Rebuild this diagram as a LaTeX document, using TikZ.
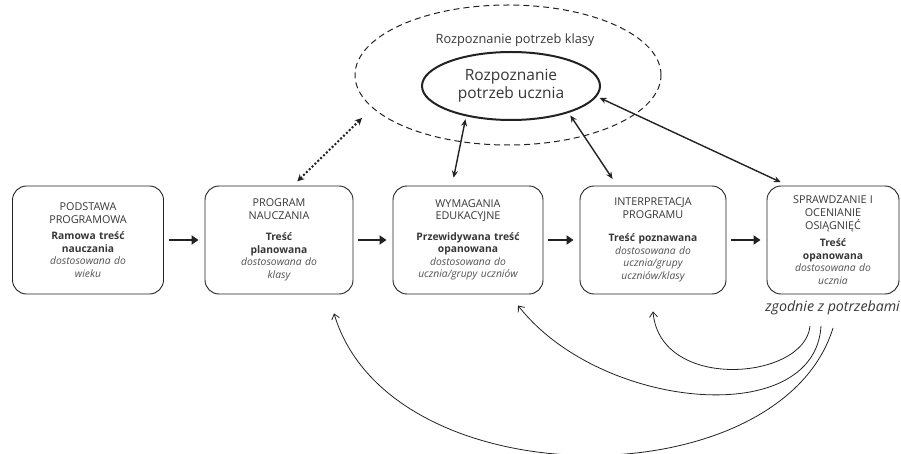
\documentclass[tikz,border=0pt]{standalone}
\usepackage{fontspec}
\setsansfont{Open Sans}
\usepackage{tikz}
\usetikzlibrary{shapes.geometric,arrows.meta}
\definecolor{ink}{HTML}{222222}
\definecolor{txt}{HTML}{363636}
\definecolor{soft}{HTML}{505050}
\tikzset{
  stage/.style={
    draw=ink, line width=0.9pt, rounded corners=14pt,
    minimum height=108pt, inner sep=3pt, align=center,
    font=\sffamily\fontsize{10.3}{12.5}\selectfont, text=txt},
  flow arrow/.style={
    draw=ink, line width=2.4pt, -{Triangle[length=7pt,width=9pt]},
    shorten <=5pt, shorten >=6pt},
  link arrow/.style={
    draw=ink, line width=1.4pt,
    {Stealth[length=7pt,width=6pt]}-{Stealth[length=7pt,width=6pt]},
    shorten <=8pt, shorten >=3pt},
  dot arrow/.style={
    draw=ink, line width=2pt, dotted,
    {Stealth[length=7pt,width=7pt]}-{Stealth[length=7pt,width=7pt]},
    shorten <=6pt},
  back arrow/.style={
    draw=ink, line width=0.8pt, -{Straight Barb[length=5pt,width=8pt]}},
  }
\newcommand{\stagehead}[1]{{\fontsize{10.8}{12.8}\selectfont #1}}
\newcommand{\adapted}[1]{{\itshape\color{soft}#1}}

\begin{document}
\begin{tikzpicture}[x=1pt,y=-1pt]
            \useasboundingbox (0,0) rectangle (901,454);

            % Stages
            \node[stage, text width=145pt] (b1) at (88,240)
                {\stagehead{PODSTAWA\\PROGRAMOWA}\\[4pt]{\bfseries Ramowa treść\\nauczania}\\\adapted{dostosowana do\\wieku}};
            \node[stage, text width=142pt] (b2) at (279,240)
                {\stagehead{PROGRAM\\NAUCZANIA}\\[9pt]{\bfseries Treść\\planowana}\\\adapted{dostosowana do\\klasy}};
            \node[stage, text width=144pt] (b3) at (468,240)
                {\stagehead{WYMAGANIA\\EDUKACYJNE}\\[8pt]{\bfseries Przewidywana treść\\opanowana}\\\adapted{dostosowana do\\ucznia/grupy uczniów}};
            \node[stage, text width=140pt] (b4) at (653,240)
                {\stagehead{INTERPRETACJA\\PROGRAMU}\\[11pt]{\bfseries Treść poznawana}\\\adapted{dostosowana do\\ucznia/grupy\\uczniów/klasy}};
            \node[stage, text width=126pt] (b5) at (833,240)
                {\stagehead{SPRAWDZANIE I\\OCENIANIE\\OSIĄGNIĘĆ}\\[5pt]{\bfseries Treść\\opanowana}\\\adapted{dostosowana do\\ucznia}};

            % Needs
            \node[draw=ink, ellipse, line width=1pt, dash pattern=on 6pt off 4pt,
                  minimum width=306pt, minimum height=140pt] (klasa) at (508,75) {};
            \node[font=\sffamily\fontsize{12.8}{14}\selectfont, text=txt] (klasa label) at (515,40) {Rozpoznanie potrzeb klasy};
            \node[draw=ink, ellipse, line width=2pt, minimum width=178pt, minimum height=68pt,
                  align=center, font=\sffamily\fontsize{15.5}{18}\selectfont, text=txt] (ucz) at (511,86)
                {Rozpoznanie\\potrzeb ucznia};

            \node[anchor=east, inner xsep=1pt, font=\sffamily\itshape\fontsize{14.2}{16}\selectfont, text=txt] (zg) at (901,308)
                {zgodnie z potrzebami};

            % Flow
            \foreach \a/\b in {b1/b2,b2/b3,b3/b4,b4/b5}
                \draw[flow arrow] (\a) -- (\b);

            % Links to needs
            \coordinate (dot) at (362,118);
            \draw[dot arrow] ([xshift=14pt]b2.north) -- (dot);
            \draw[link arrow] ([xshift=-16pt]b3.north) -- (ucz.214);
            \draw[link arrow] ([xshift=-36pt]b4.north) -- (ucz.335);
            \draw[link arrow] ([xshift=-45pt]b5.north) -- (ucz.353);

            % Back loops
            \coordinate (s1) at (810,326);
            \coordinate (s2) at (821,326);
            \coordinate (s3) at (833,328);
            \draw[back arrow] (s1) .. controls +(-5,54) and +(7,81) .. ([yshift=-17pt]b4.south);
            \draw[back arrow] (s2) .. controls +(-6,104) and +(82,105) .. ([xshift=50pt,yshift=-11pt]b3.south);
            \draw[back arrow] (s3) .. controls +(-53,172) and +(56,187) .. ([xshift=55pt,yshift=-19pt]b2.south);
        \end{tikzpicture}
\end{document}
